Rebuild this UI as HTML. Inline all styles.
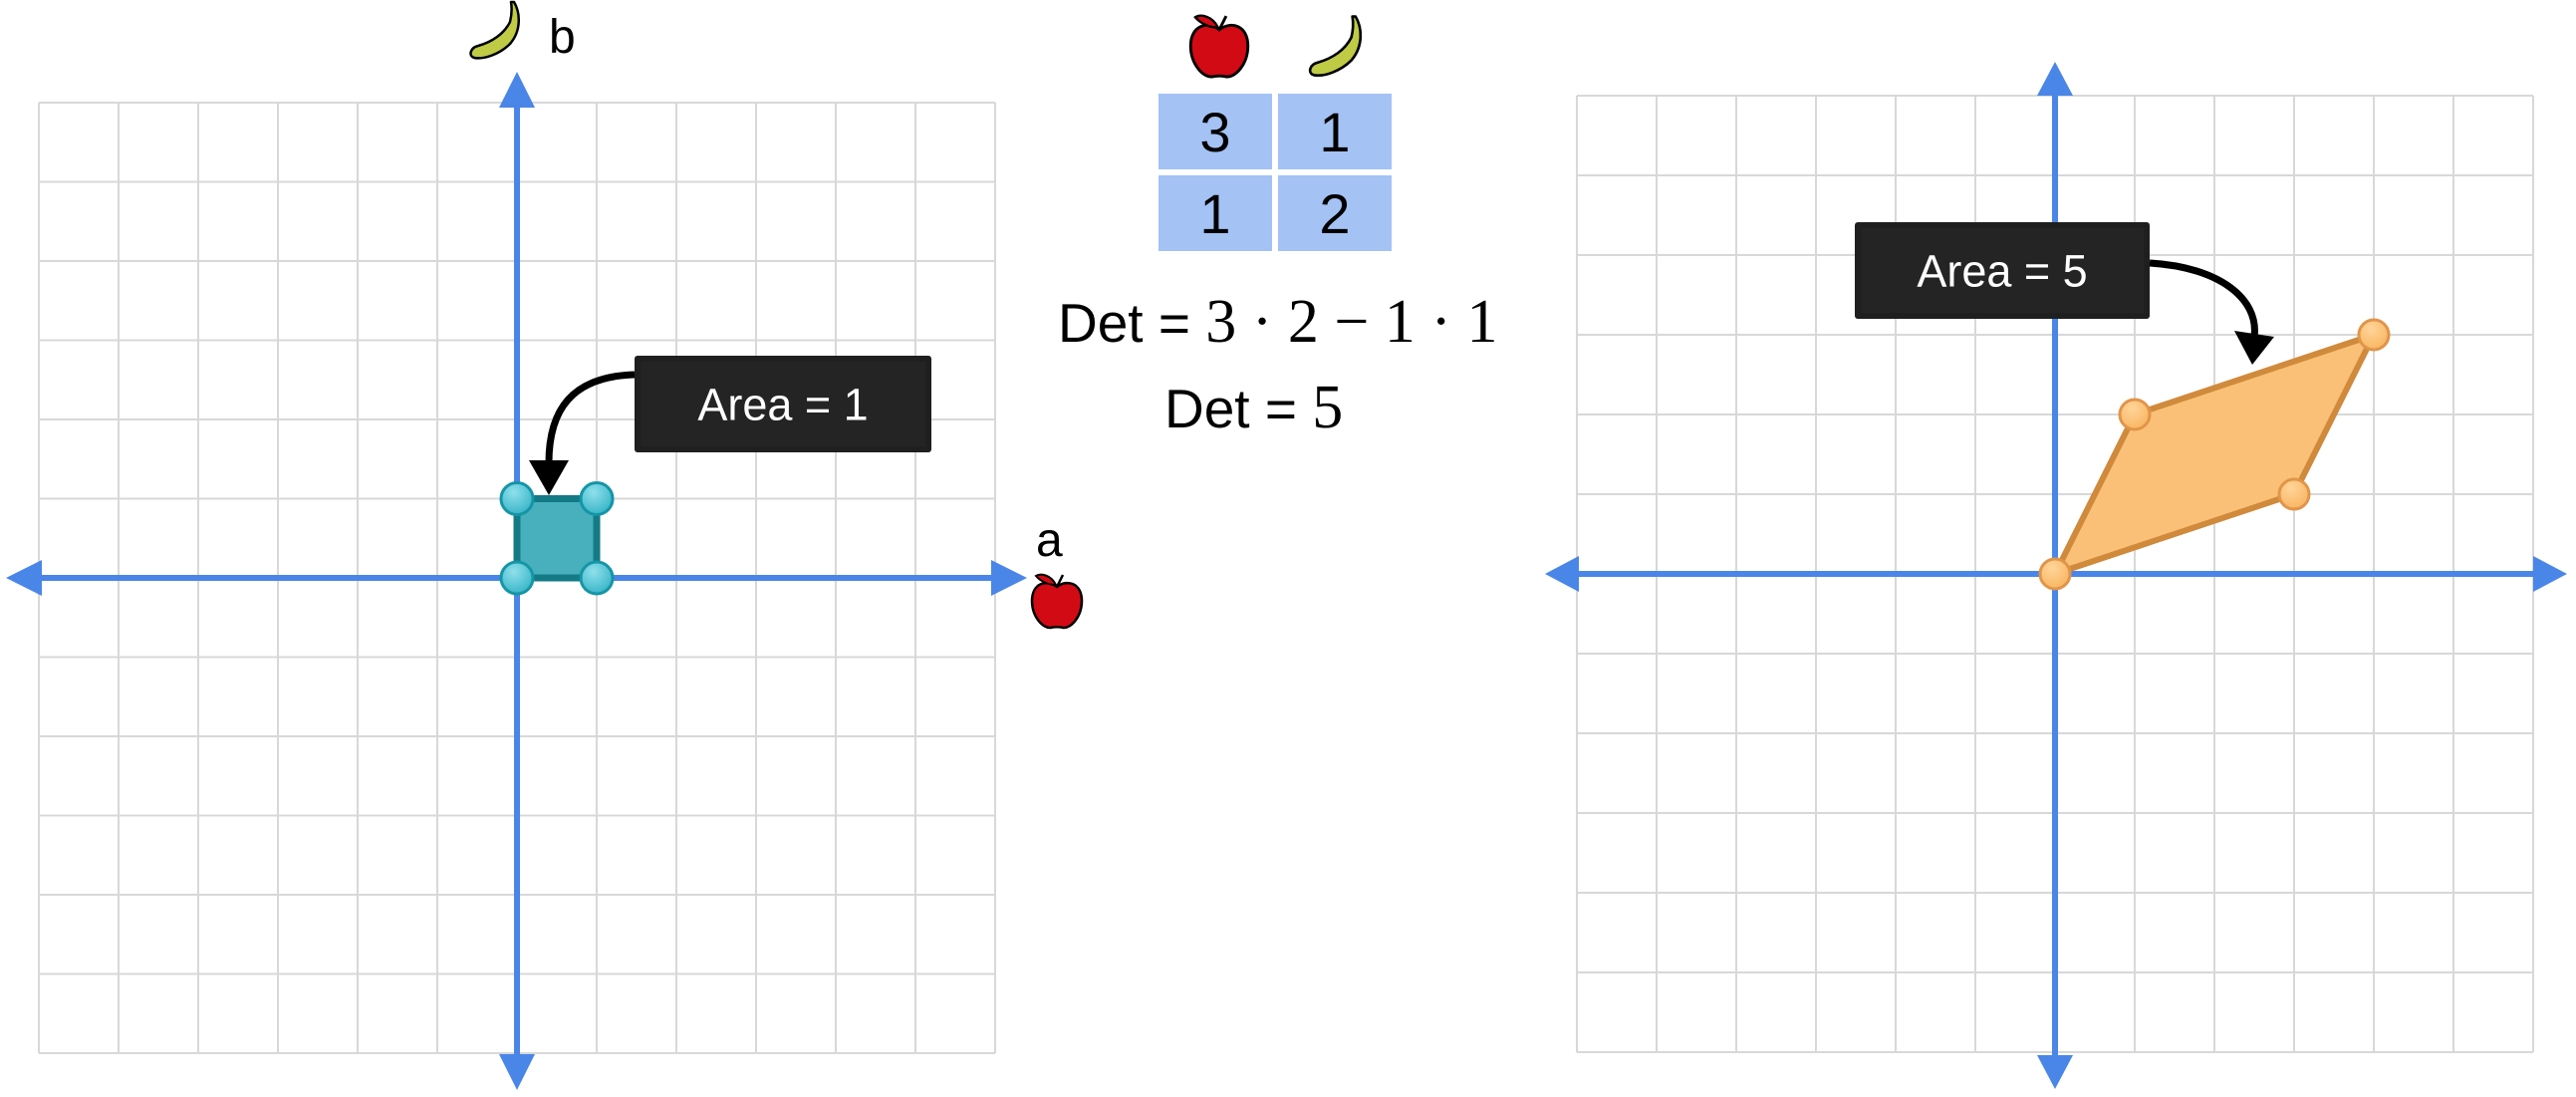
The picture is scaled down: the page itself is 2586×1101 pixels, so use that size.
<!DOCTYPE html>
<html><head><meta charset="utf-8"><style>
html,body{margin:0;padding:0;background:#fff;}
body{width:2586px;height:1096px;overflow:hidden;}
svg text{font-family:"Liberation Sans",sans-serif;}
</style></head><body>
<svg id="c" width="2586" height="1096" viewBox="0 0 2586 1096" xmlns="http://www.w3.org/2000/svg">
<defs>
<radialGradient id="tealDot" cx="0.4" cy="0.3" r="0.7"><stop offset="0" stop-color="#8fe0ec"/><stop offset="1" stop-color="#3ab6c8"/></radialGradient>
<radialGradient id="orDot" cx="0.4" cy="0.3" r="0.7"><stop offset="0" stop-color="#ffd59a"/><stop offset="1" stop-color="#f9b662"/></radialGradient>
</defs>
<g id="left"></g>
<g id="right"></g>
<g id="mid"></g>
</svg>
<script>
const NS='http://www.w3.org/2000/svg';
// data
const unitShape=[[0,0],[1,0],[1,1],[0,1]];
const transformedShape=[[0,0],[3,1],[4,3],[1,2]];
const matrixValues=[3,1,1,2];
const gridUnits=[-6,6];
const leftAreaLabel='Area = 1';
const rightAreaLabel='Area = 5';

function el(tag,attrs,parent){const e=document.createElementNS(NS,tag);for(const k in attrs)e.setAttribute(k,attrs[k]);parent.appendChild(e);return e;}

function plane(g,cfg){
  const sx=u=>cfg.ox+u*cfg.cw, sy=u=>cfg.oy-u*cfg.ch;
  const gl=el('g',{},g);
  
  
  for(let i=gridUnits[0];i<=gridUnits[1];i++){
    el('line',{x1:sx(i),x2:sx(i),y1:sy(gridUnits[1]),y2:sy(gridUnits[0]),stroke:'#d8d8d8','stroke-width':2},gl);
    el('line',{y1:sy(i),y2:sy(i),x1:sx(gridUnits[0]),x2:sx(gridUnits[1]),stroke:'#d8d8d8','stroke-width':2},gl);
  }
  const ax=el('g',{fill:'#4a86e8'},g);
  
  
  const h=cfg.ah, w=18;
  el('rect',{x:cfg.lt+h-2,y:cfg.oy-3,width:cfg.rt-cfg.lt-2*h+4,height:6},ax);
  el('rect',{x:cfg.ox-3,y:cfg.tp+h-2,width:6,height:cfg.bt-cfg.tp-2*h+4},ax);
  el('polygon',{points:`${cfg.lt},${cfg.oy} ${cfg.lt+h},${cfg.oy-w} ${cfg.lt+h},${cfg.oy+w}`},ax);
  el('polygon',{points:`${cfg.rt},${cfg.oy} ${cfg.rt-h},${cfg.oy-w} ${cfg.rt-h},${cfg.oy+w}`},ax);
  el('polygon',{points:`${cfg.ox},${cfg.tp} ${cfg.ox-w},${cfg.tp+h} ${cfg.ox+w},${cfg.tp+h}`},ax);
  el('polygon',{points:`${cfg.ox},${cfg.bt} ${cfg.ox-w},${cfg.bt-h} ${cfg.ox+w},${cfg.bt-h}`},ax);
  const sh=el('polygon',{points:cfg.shape.map(p=>sx(p[0])+','+sy(p[1])).join(' '),fill:cfg.fill,stroke:cfg.stroke,'stroke-width':cfg.sw,'stroke-linejoin':'round'},g);
  
  
  cfg.shape.forEach((p,i)=>{
    const c=el('circle',{cx:sx(p[0]),cy:sy(p[1]),r:cfg.r,fill:cfg.dot,stroke:cfg.dotStroke,'stroke-width':3},g);
    
    
  });
}

function callout(g,x,y,w,h,label,path,tip,name){
  const cg=el('g',{},g);
  
  
  el('path',{d:path,fill:'none',stroke:'#000','stroke-width':7},cg);
  el('polygon',{points:tip,fill:'#000'},cg);
  el('rect',{x:x,y:y,width:w,height:h,rx:3,fill:'#1f1f1f'},cg);
  el('rect',{x:x+6,y:y+6,width:w-12,height:h-12,fill:'#242424'},cg);
  const t=el('text',{x:x+w/2,y:y+h/2+16,'text-anchor':'middle','font-size':45,fill:'#fff'},cg);
  t.textContent=label;
}

function apple(g,cx,cy,s,name){
  const a=el('g',{transform:`translate(${cx},${cy}) scale(${s})`},g);
  
  
  el('path',{d:'M0,-14 C-10,-22 -25,-18 -25,0 C-25,16 -14,28 -6,27 C-3,26 3,26 6,27 C14,28 25,16 25,0 C25,-18 10,-22 0,-14Z',fill:'#d10a14',stroke:'#000','stroke-width':2.5},a);
  el('path',{d:'M0,-14 L6,-26',stroke:'#000','stroke-width':2.5,fill:'none'},a);
  el('path',{d:'M-1,-16 C-6,-26 -16,-28 -21,-25 C-16,-19 -8,-16 -1,-16Z',fill:'#d10a14',stroke:'#000','stroke-width':2},a);
}
function banana(g,cx,cy,s,name){
  const b=el('g',{transform:`translate(${cx},${cy}) scale(${s})`},g);
  
  
  el('path',{d:'M16,-30 C22,-20 24,-2 12,12 C2,22 -14,28 -24,26 C-30,24 -28,16 -20,14 C-6,10 6,2 12,-10 C14,-18 14,-24 13,-30Z',fill:'#bfcb45',stroke:'#000','stroke-width':2.5,'stroke-linejoin':'round'},b);
}

// left plane
const L=document.getElementById('left');
plane(L,{ox:519,oy:580,cw:80,ch:79.5,lt:6,rt:1031,tp:72,bt:1094,ah:36,shape:unitShape,fill:'#48b0bc',stroke:'#137a86',sw:7,r:16,dot:'url(#tealDot)',dotStroke:'#1595a6',shapeName:'unit-square'});
callout(L,637,357,298,97,leftAreaLabel,'M637,376 C575,378 550,410 551,468','531,462 571,462 551,497','area-callout-left');
banana(L,500,32,1,'banana-icon-b-axis');
let t=el('text',{x:551,y:53,'font-size':48,fill:'#000'},L);t.textContent='b';

t=el('text',{x:1040,y:558,'font-size':48,fill:'#000'},L);t.textContent='a';

apple(L,1061,603,1.0,'apple-icon-a-axis');

// right plane
const R=document.getElementById('right');
plane(R,{ox:2063,oy:576,cw:80,ch:80,lt:1551,rt:2577,tp:62,bt:1093,ah:34,shape:transformedShape,fill:'#fbc077',stroke:'#d08a3c',sw:6,r:15,dot:'url(#orDot)',dotStroke:'#e0954a',shapeName:'parallelogram'});
callout(R,1862,223,296,97,rightAreaLabel,'M2158,264 C2228,268 2268,300 2263,338','2243,332 2283,338 2261,366','area-callout-right');

// middle panel
const M=document.getElementById('mid');
apple(M,1224,46,1.15,'apple-column-icon');
banana(M,1344,48,1.05,'banana-column-icon');
const cellW=114,cellH=76,tx0=1163,ty0=94,gap=6;
matrixValues.forEach((v,i)=>{
  const r=Math.floor(i/2),c=i%2;
  const x=tx0+c*(cellW+gap),y=ty0+r*(cellH+gap);
  const cg=el('g',{},M);
  
  
  el('rect',{x:x,y:y,width:cellW,height:cellH,fill:'#a4c2f4'},cg);
  const tt=el('text',{x:x+cellW/2,y:y+cellH/2+20,'text-anchor':'middle','font-size':56,fill:'#000'},cg);
  tt.textContent=v;
});
const d1=el('text',{x:1062,y:343,'font-size':55,fill:'#000'},M);


d1.innerHTML='Det = <tspan font-family="Liberation Serif" font-size="62">'+matrixValues[0]+' · '+matrixValues[3]+' − '+matrixValues[1]+' · '+matrixValues[2]+'</tspan>';
const d2=el('text',{x:1169,y:429,'font-size':55,fill:'#000'},M);


d2.innerHTML='Det = <tspan font-family="Liberation Serif" font-size="62">'+(matrixValues[0]*matrixValues[3]-matrixValues[1]*matrixValues[2])+'</tspan>';
</script>
</body></html>
